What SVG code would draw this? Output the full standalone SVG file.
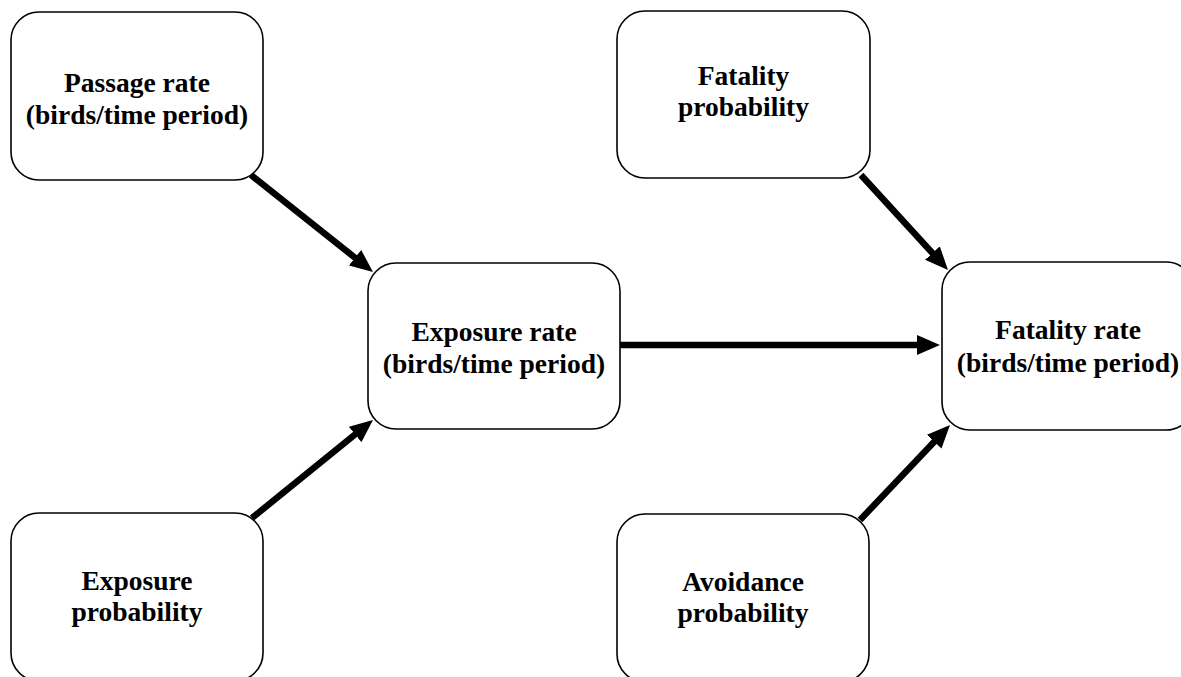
<svg xmlns="http://www.w3.org/2000/svg" width="1181" height="677" viewBox="0 0 1181 677">
<style>
.box{fill:#fff;stroke:#000;stroke-width:1.6}
.t{font-family:"Liberation Serif","Times New Roman",serif;font-weight:bold;font-size:27.5px;text-anchor:middle;fill:#000}
.c{stroke:#000;stroke-width:6.5;fill:none;marker-end:url(#ah)}
</style>
<defs>
<marker id="ah" markerUnits="userSpaceOnUse" viewBox="0 0 23 20" markerWidth="23" markerHeight="20" refX="9" refY="10" orient="auto">
<path d="M0,0 L23,10 L0,20 z" fill="#000"/>
</marker>
</defs>
<rect width="1181" height="677" fill="#fff"/>
<g id="connectors">
<line class="c" x1="251" y1="175" x2="362" y2="263.3"/>
<line class="c" x1="252" y1="518" x2="362.1" y2="428.8"/>
<line class="c" x1="620" y1="345" x2="926" y2="345"/>
<line class="c" x1="861" y1="175" x2="938.5" y2="259.7"/>
<line class="c" x1="860" y1="520" x2="940.4" y2="435.2"/>
</g>
<g id="passage-rate">
<rect class="box" x="11" y="12" width="252" height="168" rx="28"/>
<text class="t" x="137" y="92">Passage rate</text>
<text class="t" x="137" y="124">(birds/time period)</text>
</g>
<g id="exposure-rate">
<rect class="box" x="368" y="263" width="252" height="166" rx="28"/>
<text class="t" x="494" y="341">Exposure rate</text>
<text class="t" x="494" y="373">(birds/time period)</text>
</g>
<g id="fatality-probability">
<rect class="box" x="617" y="11" width="253" height="167" rx="28"/>
<text class="t" x="743.5" y="85">Fatality</text>
<text class="t" x="743.5" y="116">probability</text>
</g>
<g id="fatality-rate">
<rect class="box" x="942" y="262" width="252" height="168" rx="28"/>
<text class="t" x="1068" y="339">Fatality rate</text>
<text class="t" x="1068" y="372">(birds/time period)</text>
</g>
<g id="exposure-probability">
<rect class="box" x="11" y="513" width="252" height="168" rx="28"/>
<text class="t" x="137" y="590">Exposure</text>
<text class="t" x="137" y="621">probability</text>
</g>
<g id="avoidance-probability">
<rect class="box" x="617" y="514" width="252" height="168" rx="28"/>
<text class="t" x="743" y="591">Avoidance</text>
<text class="t" x="743" y="622">probability</text>
</g>
</svg>
